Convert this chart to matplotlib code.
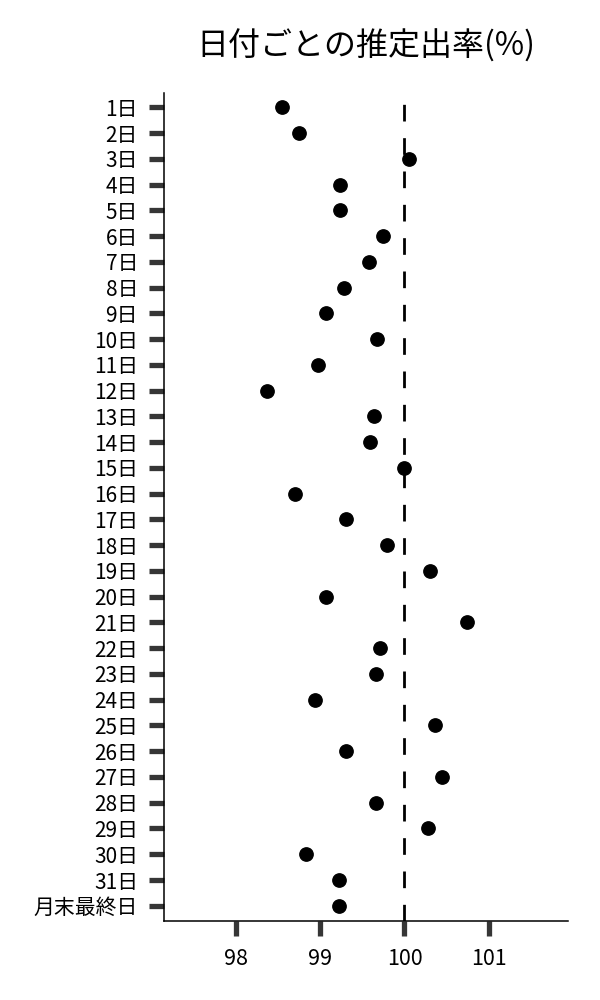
import numpy as np
import matplotlib
matplotlib.use("Agg")
from matplotlib import pyplot as plt

plt.rcParams['font.family'] = ['Noto Sans CJK JP', 'DejaVu Sans']

# categories (top to bottom)
days = [f"{i}日" for i in range(1, 32)] + ["月末最終日"]

# estimated rate per day (%)
rates = [98.55, 98.75, 100.05, 99.24, 99.24, 99.74, 99.58, 99.28, 99.07, 99.68,
         98.98, 98.37, 99.64, 99.59, 99.99, 98.70, 99.31, 99.79, 100.30, 99.07,
         100.74, 99.71, 99.66, 98.94, 100.36, 99.31, 100.44, 99.66, 100.28, 98.83,
         99.22, 99.22]

x_ticks = [98, 99, 100, 101]

fig = plt.figure(figsize=(6, 10), dpi=100)
ax = fig.add_axes([0.274, 0.0793, 0.6727, 0.828])

ind = np.arange(len(days))
ax.plot(rates, ind, 'o', color='black', markersize=9.6, zorder=3)

# reference line at 100
ax.axvline(100, color='black', linewidth=2, linestyle=(0, (6, 6)), zorder=2)

ax.set_xlim(97.153, 101.94)
ax.set_ylim(len(days) - 1 + 0.58, -0.57)

ax.set_yticks(ind)
ax.set_yticklabels(days)
ax.set_xticks(x_ticks)
ax.set_xticklabels([str(t) for t in x_ticks])

ax.tick_params(axis='both', length=11, width=3.8, color='#363636')
ax.tick_params(axis='y', labelsize=15, pad=8)
ax.tick_params(axis='x', labelsize=15.5, pad=9)

for side in ['top', 'right']:
    ax.spines[side].set_visible(False)
for side in ['left', 'bottom']:
    ax.spines[side].set_linewidth(1.1)
    ax.spines[side].set_color('black')

ax.set_title('日付ごとの推定出率(%)', fontsize=23, pad=27)

fig.savefig('out.png', dpi=100)
